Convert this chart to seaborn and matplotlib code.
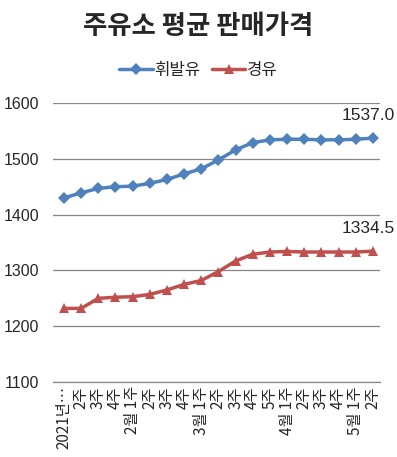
import matplotlib
matplotlib.use("Agg")
import matplotlib.pyplot as plt
import seaborn as sns
import pandas as pd
from matplotlib.lines import Line2D

categories = ["2021년…", "2주", "3주", "4주", "2월 1주", "2주", "3주", "4주",
              "3월 1주", "2주", "3주", "4주", "5주", "4월 1주", "2주", "3주", "4주",
              "5월 1주", "2주"]
gasoline = [1430, 1439, 1447, 1450, 1451, 1456, 1463, 1473, 1482, 1498, 1516,
            1529, 1534, 1535, 1535, 1534, 1534, 1535, 1537.0]
diesel = [1232, 1232, 1250, 1252, 1253, 1257, 1265, 1275, 1282, 1298, 1317,
          1329, 1333, 1334, 1333, 1333, 1333, 1333, 1334.5]
series_names = ["휘발유", "경유"]
yticks = [1100, 1200, 1300, 1400, 1500, 1600]

sns.set_theme(style="white")
plt.rcParams['font.family'] = ['Noto Sans CJK KR', 'DejaVu Sans']

df = pd.DataFrame({"x": list(range(len(categories))) * 2,
                   "value": gasoline + diesel,
                   "series": [series_names[0]] * len(categories) + [series_names[1]] * len(categories)})

fig = plt.figure(figsize=(3.97, 4.57), dpi=100)
ax = fig.add_axes([0.1335, 0.164, 0.823, 0.6106])

palette = {"휘발유": "#4F81BD", "경유": "#C0504D"}
markers = {"휘발유": "D", "경유": "^"}
sns.lineplot(data=df, x="x", y="value", hue="series", style="series",
             palette=palette, markers=markers, dashes=False, markersize=6.5,
             markeredgewidth=0, linewidth=2.5, ax=ax, legend=False)

ax.set_ylim(1100, 1600)
ax.set_xlim(-0.64, 18.4)
ax.set_yticks(yticks)
ax.set_yticklabels([str(v) for v in yticks], family="Liberation Sans", fontsize=11.5)
ax.grid(axis="y", color="#868686", linewidth=0.9)
ax.set_axisbelow(True)
ax.set_xticks(range(len(categories)))
ax.set_xticklabels(categories, rotation=90, fontsize=11, va="top", ha="center")
ax.tick_params(axis="x", length=0, pad=3)
ax.tick_params(axis="y", length=0, pad=10)
for s in ["top", "right", "left"]:
    ax.spines[s].set_visible(False)
ax.spines["bottom"].set_color("#868686")
ax.spines["bottom"].set_linewidth(0.9)
ax.set_xlabel("")
ax.set_ylabel("")

for vals in (gasoline, diesel):
    ax.annotate(f"{vals[-1]:.1f}", (len(categories) - 1, vals[-1]),
                xytext=(-3, 16), textcoords="offset points", ha="center", va="center",
                family="Liberation Sans", fontsize=12.5)

handles = [Line2D([], [], color=palette[n], marker=markers[n], markersize=6.5,
                  markeredgewidth=0, linewidth=2.5) for n in series_names]
fig.legend(handles, series_names, loc="center", bbox_to_anchor=(0.5, 1 - 70 / 457),
           ncol=2, frameon=False, fontsize=12, handlelength=2.0, handletextpad=0.1,
           columnspacing=0.7)

fig.text(0.5, 1 - 27 / 457, "주유소 평균 판매가격", ha="center", va="center",
         fontsize=19, fontweight="bold")

fig.savefig("out.png", dpi=100, facecolor="white")
